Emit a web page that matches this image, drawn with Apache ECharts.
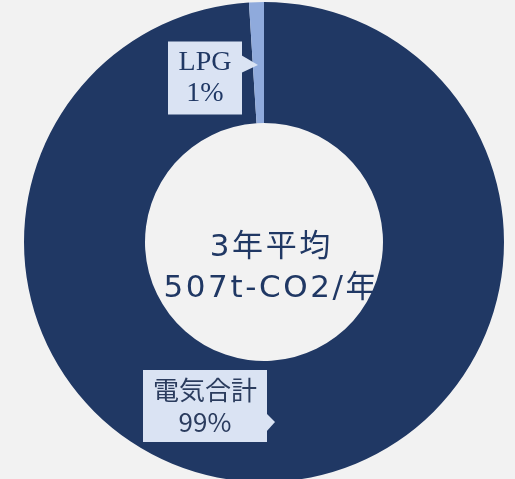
<!DOCTYPE html>
<html>
<head>
    <meta charset="UTF-8">
    <title>CO2 donut</title>
    <script src="https://cdn.jsdelivr.net/npm/echarts@6/dist/echarts.min.js"></script>
    <style>
        html, body { margin: 0; padding: 0; background: #f2f2f2; }
    </style>
</head>
<body>
<div id="pie" style="width:515px; height:479px;"></div>
<script>
    // data
    var categories = ['電気合計', 'LPG'];
    var shares = [99, 1];
    var centerLines = ['3年平均', '507t-CO2/年'];

    var navy = '#203864';
    var boxBg = '#dae3f3';

    // where each callout box sits (centre x, centre y)
    var labelPos = [
        {x: 205, y: 406},
        {x: 205, y: 78}
    ];

    var chart = echarts.init(document.getElementById('pie'), null, {renderer: 'canvas'});

    var pieData = categories.map(function (name, i) {
        return {name: name, value: shares[i]};
    });

    // the original spaces its letters out a bit, so each char gets a little padding
    function spaced(str) {
        return str.split('').map(function (ch) { return '{s|' + ch + '}'; }).join('');
    }

    var option = {
        backgroundColor: '#f2f2f2',
        animation: false,
        title: {
            text: centerLines.map(spaced).join('\n'),
            left: 265,
            top: 222,
            textAlign: 'center',
            textStyle: {
                color: navy,
                fontSize: 31,
                fontWeight: 'normal',
                lineHeight: 41,
                rich: {
                    s: {
                        color: navy,
                        fontSize: 31,
                        fontWeight: 'normal',
                        lineHeight: 41,
                        padding: [0, 1.3],
                        fontFamily: 'DejaVu Sans, Noto Sans CJK JP'
                    }
                }
            }
        },
        // little pointers on the callout boxes
        graphic: [
            {type: 'polygon', shape: {points: [[241, 55], [258, 65], [241, 73]]}, style: {fill: boxBg}, z: 100},
            {type: 'polygon', shape: {points: [[266, 413], [275, 422], [266, 432]]}, style: {fill: boxBg}, z: 100}
        ],
        color: [navy, '#8faadc'],
        series: [{
            type: 'pie',
            center: [264, 242],
            radius: [119, 240],
            startAngle: 90,
            clockwise: true,
            silent: true,
            itemStyle: {borderWidth: 0},
            label: {
                show: true,
                position: 'outside',
                align: 'center',
                verticalAlign: 'middle',
                backgroundColor: boxBg,
                color: navy,
                lineHeight: 32
            },
            labelLine: {show: false},
            labelLayout: function (params) {
                var p = labelPos[params.dataIndex];
                return {x: p.x, y: p.y, align: 'center', verticalAlign: 'middle'};
            },
            data: [
                {
                    name: pieData[0].name, value: pieData[0].value,
                    label: {
                        formatter: '{b}\n{c}%',
                        width: 124, height: 72,
                        fontSize: 26,
                        color: '#2b3c5e',
                        fontFamily: 'Noto Sans CJK JP'
                    }
                },
                {
                    name: pieData[1].name, value: pieData[1].value,
                    label: {
                        formatter: '{b}\n{c}%',
                        width: 74, height: 73,
                        fontSize: 28,
                        lineHeight: 31,
                        fontFamily: 'Liberation Serif'
                    }
                }
            ]
        }]
    };

    chart.setOption(option);
</script>
</body>
</html>
